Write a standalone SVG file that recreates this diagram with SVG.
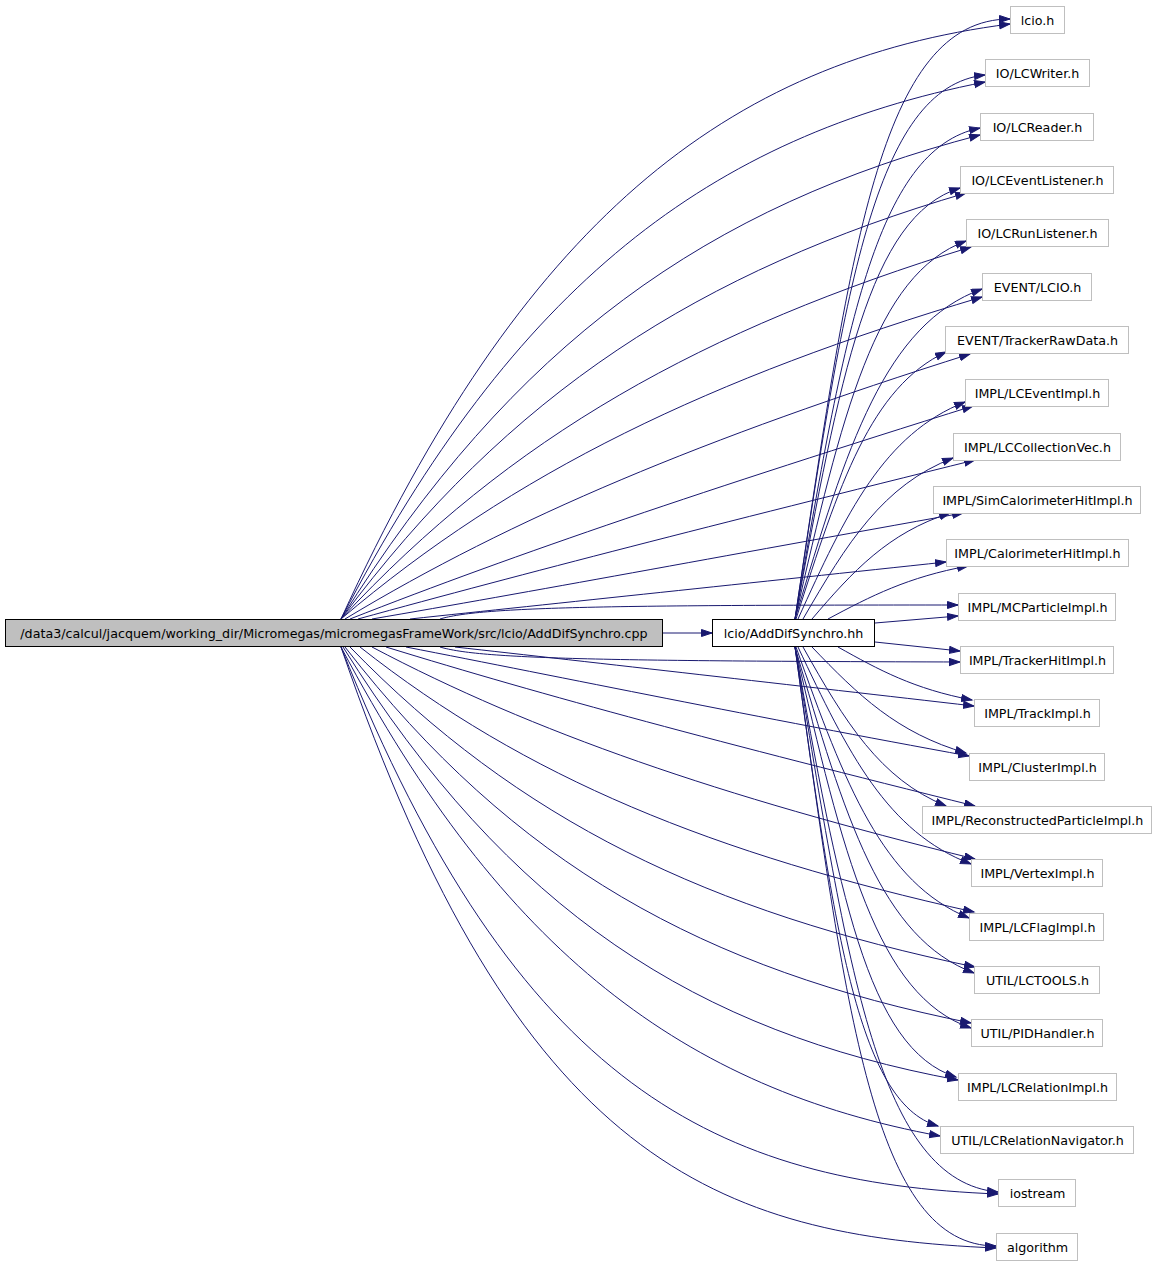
<svg xmlns="http://www.w3.org/2000/svg" width="1157" height="1267" viewBox="0 0 1157 1267">
<style>
text{font-family:"DejaVu Sans","Liberation Sans",sans-serif;font-size:12.7px;fill:#000;text-anchor:middle}
.n rect{fill:#fff;stroke:#bfbfbf;stroke-width:1}
.e path{fill:none;stroke:#191970;stroke-width:1;marker-end:url(#a)}
</style>
<defs>
<marker id="a" markerUnits="userSpaceOnUse" markerWidth="13" markerHeight="10" refX="11" refY="4" orient="auto"><path d="M0.5,0.5 L11,4 L0.5,7.5 z" fill="#191970" stroke="#191970" stroke-width="1"/></marker>
</defs>
<rect width="1157" height="1267" fill="#fff"/>
<g class="e" id="edges">
<path d="M663,633 L712,633"/>
<path d="M341,619 C522,223 726,60 1010,24"/>
<path d="M341,619 C515,284 711,136 985,82"/>
<path d="M341,619 C514,342 708,206 980,135"/>
<path d="M341,619 C510,392 700,271 966,193"/>
<path d="M341,619 C511,436 703,329 971,247"/>
<path d="M341,619 C514,472 710,378 982,297"/>
<path d="M345,619 C514,517 704,438 970,354"/>
<path d="M350,619 C518,553 708,489 973,406"/>
<path d="M358,619 C525,573 713,525 975,460"/>
<path d="M372,619 C530,592 712,558 963,513"/>
<path d="M410,619 C550,604 760,582 946,562"/>
<path d="M440,619 C480,607 600,605 958,605"/>
<path d="M440,647 C480,659 600,661 960,662"/>
<path d="M455,647 C590,662 800,686 974,706"/>
<path d="M406,647 C560,677 760,718 969,756"/>
<path d="M386,647 C545,696 725,744 975,806"/>
<path d="M372,647 C535,733 719,796 975,859"/>
<path d="M360,647 C526,778 713,854 974,912"/>
<path d="M350,647 C519,821 709,912 975,967"/>
<path d="M345,647 C514,865 705,970 971,1023"/>
<path d="M343,647 C509,912 697,1032 958,1080"/>
<path d="M341,647 C503,953 685,1089 940,1136"/>
<path d="M341,647 C518,1090 719,1183 998,1194"/>
<path d="M341,647 C518,1164 718,1236 996,1248"/>
<path d="M795,619 C850,249 880,19 1010,19"/>
<path d="M795,619 C844,293 874,87 985,75"/>
<path d="M795,619 C844,334 875,149 980,128"/>
<path d="M795,619 C840,377 869,216 960,188"/>
<path d="M795,619 C842,414 875,274 966,241"/>
<path d="M795,619 C847,445 885,324 982,289"/>
<path d="M796,619 C839,484 871,387 946,352"/>
<path d="M798,619 C846,513 884,434 965,402"/>
<path d="M803,619 C847,543 883,485 953,458"/>
<path d="M812,619 C853,571 888,533 950,513"/>
<path d="M828,619 C871,596 908,577 968,566"/>
<path d="M875,623 L958,616"/>
<path d="M875,642 L960,651"/>
<path d="M838,647 C879,670 914,689 972,700"/>
<path d="M812,647 C858,695 897,733 966,753"/>
<path d="M803,647 C845,722 880,779 946,806"/>
<path d="M798,647 C848,753 887,832 971,864"/>
<path d="M796,647 C845,785 883,883 969,918"/>
<path d="M795,647 C845,818 881,938 974,973"/>
<path d="M795,647 C843,855 877,996 971,1028"/>
<path d="M795,647 C838,888 867,1049 956,1077"/>
<path d="M795,647 C833,923 857,1103 938,1126"/>
<path d="M795,647 C848,973 879,1181 998,1192"/>
<path d="M795,647 C846,1017 874,1246 996,1246"/>
</g>
<g id="src"><rect x="5.5" y="619.5" width="657" height="27" fill="#bfbfbf" stroke="#000"/><text x="334" y="637.5">/data3/calcul/jacquem/working_dir/Micromegas/micromegasFrameWork/src/lcio/AddDifSynchro.cpp</text></g>
<g id="hh"><rect x="712.5" y="619.5" width="162" height="27" fill="#fff" stroke="#000"/><text x="793.5" y="637.5">lcio/AddDifSynchro.hh</text></g>
<g class="n">
<g id="n1"><rect x="1010.5" y="6.5" width="54" height="27"/><text x="1037.5" y="24.5">lcio.h</text></g>
<g id="n2"><rect x="985.5" y="59.5" width="104" height="27"/><text x="1037.5" y="77.5">IO/LCWriter.h</text></g>
<g id="n3"><rect x="980.5" y="113.5" width="113" height="27"/><text x="1037.5" y="131.5">IO/LCReader.h</text></g>
<g id="n4"><rect x="960.5" y="166.5" width="153" height="27"/><text x="1037.5" y="184.5">IO/LCEventListener.h</text></g>
<g id="n5"><rect x="966.5" y="219.5" width="142" height="27"/><text x="1037.5" y="237.5">IO/LCRunListener.h</text></g>
<g id="n6"><rect x="982.5" y="273.5" width="109" height="27"/><text x="1037.5" y="291.5">EVENT/LCIO.h</text></g>
<g id="n7"><rect x="945.5" y="326.5" width="183" height="27"/><text x="1037.5" y="344.5">EVENT/TrackerRawData.h</text></g>
<g id="n8"><rect x="965.5" y="379.5" width="143" height="27"/><text x="1037.5" y="397.5">IMPL/LCEventImpl.h</text></g>
<g id="n9"><rect x="953.5" y="433.5" width="167" height="27"/><text x="1037.5" y="451.5">IMPL/LCCollectionVec.h</text></g>
<g id="n10"><rect x="933.5" y="486.5" width="207" height="27"/><text x="1037.5" y="504.5">IMPL/SimCalorimeterHitImpl.h</text></g>
<g id="n11"><rect x="946.5" y="539.5" width="182" height="27"/><text x="1037.5" y="557.5">IMPL/CalorimeterHitImpl.h</text></g>
<g id="n12"><rect x="958.5" y="593.5" width="157" height="27"/><text x="1037.5" y="611.5">IMPL/MCParticleImpl.h</text></g>
<g id="n13"><rect x="960.5" y="646.5" width="153" height="27"/><text x="1037.5" y="664.5">IMPL/TrackerHitImpl.h</text></g>
<g id="n14"><rect x="974.5" y="699.5" width="125" height="27"/><text x="1037.5" y="717.5">IMPL/TrackImpl.h</text></g>
<g id="n15"><rect x="969.5" y="753.5" width="135" height="27"/><text x="1037.5" y="771.5">IMPL/ClusterImpl.h</text></g>
<g id="n16"><rect x="922.5" y="806.5" width="229" height="27"/><text x="1037.5" y="824.5">IMPL/ReconstructedParticleImpl.h</text></g>
<g id="n17"><rect x="971.5" y="859.5" width="131" height="27"/><text x="1037.5" y="877.5">IMPL/VertexImpl.h</text></g>
<g id="n18"><rect x="969.5" y="913.5" width="134" height="27"/><text x="1037.5" y="931.5">IMPL/LCFlagImpl.h</text></g>
<g id="n19"><rect x="974.5" y="966.5" width="125" height="27"/><text x="1037.5" y="984.5">UTIL/LCTOOLS.h</text></g>
<g id="n20"><rect x="971.5" y="1019.5" width="131" height="27"/><text x="1037.5" y="1037.5">UTIL/PIDHandler.h</text></g>
<g id="n21"><rect x="958.5" y="1073.5" width="158" height="27"/><text x="1037.5" y="1091.5">IMPL/LCRelationImpl.h</text></g>
<g id="n22"><rect x="940.5" y="1126.5" width="193" height="27"/><text x="1037.5" y="1144.5">UTIL/LCRelationNavigator.h</text></g>
<g id="n23"><rect x="998.5" y="1179.5" width="77" height="27"/><text x="1037.5" y="1197.5">iostream</text></g>
<g id="n24"><rect x="996.5" y="1233.5" width="81" height="27"/><text x="1037.5" y="1251.5">algorithm</text></g>
</g>
</svg>
